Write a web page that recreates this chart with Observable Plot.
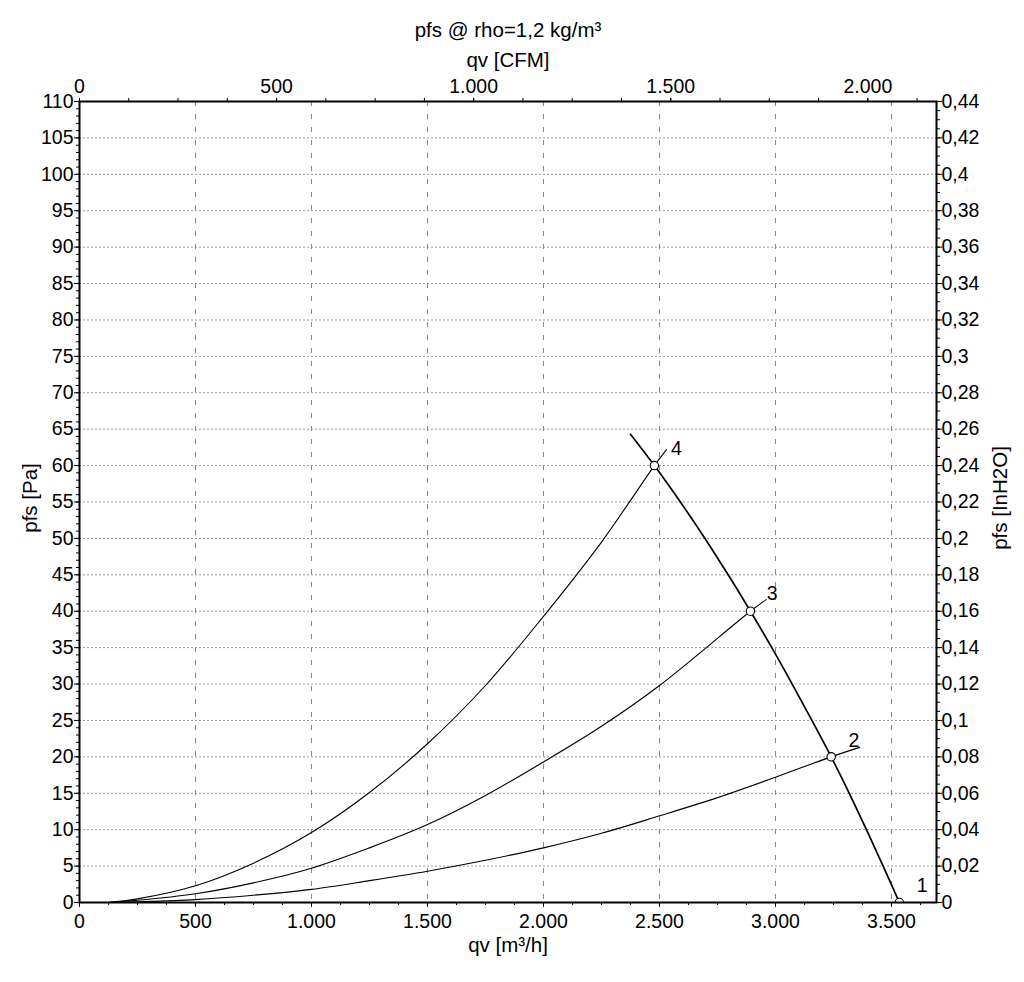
<!DOCTYPE html>
<html><head><meta charset="utf-8">
<script src="https://cdn.jsdelivr.net/npm/d3@7"></script>
<script src="https://cdn.jsdelivr.net/npm/@observablehq/plot@0.6"></script>
<style>html,body{margin:0;padding:0;background:#fff;}</style>
</head><body><div id="chart"></div>
<script>
// ---- Data ----
// Fan characteristic curve (qv in m³/h, pfs in Pa)
const fanQv  = [2375, 2478, 2590, 2696, 2796, 2892, 2984, 3072, 3157, 3240, 3318, 3392, 3464, 3534];
const fanPfs = [64.3, 60, 55, 50, 45, 40, 35, 30, 25, 20, 15, 10, 5, 0];
// System curves (last point = short leader towards the label)
const sys4Qv  = [120, 250, 500, 750, 1000, 1250, 1500, 1750, 2000, 2250, 2478, 2530];
const sys4Pfs = [0, 0.5, 2.3, 5.4, 9.6, 15.1, 21.8, 29.8, 39.3, 49.5, 60, 62.2];
const sys3Qv  = [120, 250, 500, 750, 1000, 1250, 1500, 1750, 2000, 2250, 2500, 2892, 2960];
const sys3Pfs = [0, 0.3, 1.2, 2.7, 4.7, 7.5, 10.7, 14.7, 19.3, 24.2, 29.8, 40, 41.6];
const sys2Qv  = [120, 250, 500, 750, 1000, 1250, 1500, 1750, 2000, 2250, 2500, 2750, 3000, 3240, 3363];
const sys2Pfs = [0, 0.1, 0.4, 1.0, 1.8, 3.0, 4.3, 5.8, 7.5, 9.5, 11.9, 14.4, 17.2, 20, 21.3];
// Operating points and their labels
const opQv    = [3534, 3240, 2892, 2478];
const opPfs   = [0, 20, 40, 60];
const opLabels = ["1", "2", "3", "4"];
const labelQv  = [3632, 3338, 2986, 2573];
const labelPfs = [2.3, 22.2, 42.4, 62.3];
// Axis ticks
const qvTicks  = [0, 500, 1000, 1500, 2000, 2500, 3000, 3500];
const cfmTicks = [0, 500, 1000, 1500, 2000];
const pfsTicks = [0, 5, 10, 15, 20, 25, 30, 35, 40, 45, 50, 55, 60, 65, 70, 75, 80, 85, 90, 95, 100, 105, 110];
const inTicks  = [0, 0.02, 0.04, 0.06, 0.08, 0.1, 0.12, 0.14, 0.16, 0.18, 0.2, 0.22, 0.24, 0.26, 0.28, 0.3, 0.32, 0.34, 0.36, 0.38, 0.4, 0.42, 0.44];
const titleText = "pfs @ rho=1,2 kg/m³";
const xTopLabel = "qv [CFM]";
const xBottomLabel = "qv [m³/h]";
const yLeftLabel = "pfs [Pa]";
const yRightLabel = "pfs [InH2O]";

// ---- Unit conversions ----
const CFM = 1.699;      // m³/h per CFM
const PA_PER_IN = 250;  // Pa per inH2O (as used on the chart)

const loc = d3.formatLocale({decimal: ",", thousands: ".", grouping: [3], currency: ["", ""]});
const fmtInt = loc.format(",d");
const fmtIn = d => String(+(d / PA_PER_IN).toFixed(3)).replace(".", ",");

const qvMinor  = d3.range(0, 3694, 125);
const cfmMinor = d3.range(0, 2126, 125).map(c => c * CFM);
const pfsMinor = d3.range(0, 111, 1);
const inMinor  = d3.range(0, 89, 1).map(i => i * 0.005 * PA_PER_IN);
const pfsGrid = pfsTicks.filter(d => d > 0 && d < 110);
const qvGrid  = qvTicks.filter(d => d > 0);

const FS = 19.5;   // tick labels
const LS = 20.5;   // titles / axis labels
const font = "'Liberation Sans', Arial, Helvetica, sans-serif";

const chart = Plot.plot({
  width: 1024,
  height: 982,
  marginLeft: 79,
  marginRight: 88,
  marginTop: 101,
  marginBottom: 80,
  style: {fontFamily: font, fontSize: FS + "px", background: "white", color: "black"},
  x: {domain: [0, 3694]},
  y: {domain: [0, 110]},
  marks: [
    Plot.gridY(pfsGrid, {stroke: "#999", strokeOpacity: 1, strokeDasharray: "2,2"}),
    Plot.gridX(qvGrid, {stroke: "#888", strokeOpacity: 1, strokeDasharray: "5,8"}),
    Plot.line(sys4Pfs, {x: sys4Qv, y: sys4Pfs, stroke: "black", strokeWidth: 1.1, curve: "catmull-rom"}),
    Plot.line(sys3Pfs, {x: sys3Qv, y: sys3Pfs, stroke: "black", strokeWidth: 1.1, curve: "catmull-rom"}),
    Plot.line(sys2Pfs, {x: sys2Qv, y: sys2Pfs, stroke: "black", strokeWidth: 1.1, curve: "catmull-rom"}),
    Plot.line(fanPfs, {x: fanQv, y: fanPfs, stroke: "black", strokeWidth: 1.7, curve: "catmull-rom"}),
    Plot.dot(opPfs, {x: opQv, y: opPfs, r: 4.2, fill: "white", stroke: "black", strokeWidth: 1.1, clip: true}),
    Plot.text(opLabels, {x: labelQv, y: labelPfs, text: opLabels, fontSize: FS, fill: "black"}),
    Plot.frame({stroke: "black", strokeWidth: 2}),
    // bottom axis (m³/h)
    Plot.axisX(qvTicks, {anchor: "bottom", tickSize: 5, tickPadding: 7, tickFormat: fmtInt, label: null, fontSize: FS}),
    Plot.axisX(qvMinor, {anchor: "bottom", tickSize: 3, tickFormat: () => "", label: null}),
    // top axis (CFM)
    Plot.axisX(cfmTicks.map(c => c * CFM), {anchor: "top", tickSize: 4, tickPadding: 5, tickFormat: d => fmtInt(Math.round(d / CFM)), label: null, fontSize: FS}),
    Plot.axisX(cfmMinor, {anchor: "top", tickSize: 4, tickFormat: () => "", label: null}),
    // left axis (Pa)
    Plot.axisY(pfsTicks, {anchor: "left", tickSize: 5, tickPadding: 1, tickFormat: d => String(d), label: null, fontSize: FS}),
    Plot.axisY(pfsMinor, {anchor: "left", tickSize: 3, tickFormat: () => "", label: null}),
    // right axis (inH2O)
    Plot.axisY(inTicks.map(v => v * PA_PER_IN), {anchor: "right", tickSize: 5, tickPadding: 0, tickFormat: fmtIn, label: null, fontSize: FS}),
    Plot.axisY(inMinor, {anchor: "right", tickSize: 3, tickFormat: () => "", label: null}),
    // titles
    Plot.text([titleText], {frameAnchor: "top", dy: -71, text: d => d, fontSize: LS, textAnchor: "middle", lineAnchor: "middle", fill: "black"}),
    Plot.text([xTopLabel], {frameAnchor: "top", dy: -41, text: d => d, fontSize: LS, textAnchor: "middle", lineAnchor: "middle", fill: "black"}),
    Plot.text([xBottomLabel], {frameAnchor: "bottom", dy: 43, text: d => d, fontSize: LS, textAnchor: "middle", lineAnchor: "middle", fill: "black"}),
    Plot.text([yLeftLabel], {frameAnchor: "left", dx: -49, dy: -4, rotate: -90, text: d => d, fontSize: LS, textAnchor: "middle", lineAnchor: "middle", fill: "black"}),
    Plot.text([yRightLabel], {frameAnchor: "right", dx: 64, dy: -4, rotate: -90, text: d => d, fontSize: LS, textAnchor: "middle", lineAnchor: "middle", fill: "black"})
  ]
});
document.getElementById("chart").appendChild(chart);
</script>
</body></html>
